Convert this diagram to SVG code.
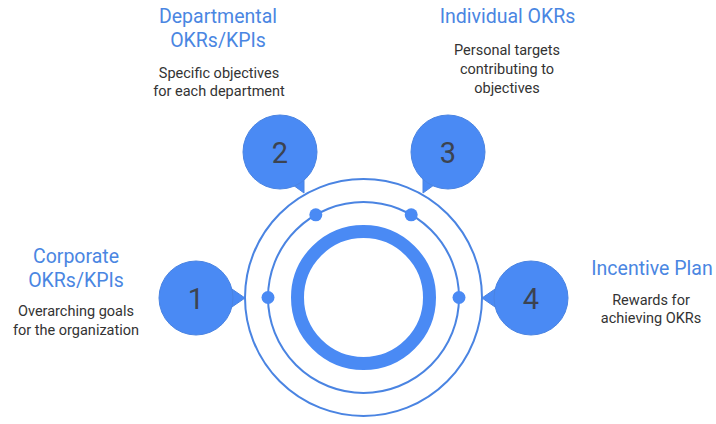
<svg xmlns="http://www.w3.org/2000/svg" width="716" height="424" viewBox="0 0 716 424">
<style>
.ring{fill:none;stroke:#4a84e2;stroke-width:2}
.dot{fill:#4a8af4}
.bub{fill:#4a8af4;stroke:#4a84e2;stroke-width:1}
.num{font-family:Roboto,"Liberation Sans",sans-serif;font-size:29px;fill:#3c4350;text-anchor:middle}
.title{font-family:Roboto,"Liberation Sans",sans-serif;font-size:19.5px;fill:#4a86e2;text-anchor:middle}
.desc{font-family:Roboto,"Liberation Sans",sans-serif;font-size:14.5px;fill:#333;text-anchor:middle}
</style>
<rect width="716" height="424" fill="#fff"/>
<g id="connectors">
<circle class="ring" cx="363.5" cy="297.5" r="118.5"/>
<circle class="ring" cx="363.5" cy="297.5" r="95.5"/>
<circle cx="363.5" cy="297.5" r="66" fill="none" stroke="#4a8af4" stroke-width="13"/>
<circle class="dot" cx="268" cy="297.5" r="6.5"/>
<circle class="dot" cx="459" cy="297.5" r="6.5"/>
<circle class="dot" cx="315.8" cy="214.8" r="6.5"/>
<circle class="dot" cx="411.2" cy="214.8" r="6.5"/>
</g>
<g id="node1">
<path class="bub" d="M229,287 L245,298 L229,309 Z"/>
<circle class="bub" cx="196" cy="298" r="37"/>
<text class="num" x="196" y="308.5">1</text>
<text class="title" x="76" y="263">Corporate</text>
<text class="title" x="76" y="287">OKRs/KPIs</text>
<text class="desc" x="76" y="316">Overarching goals</text>
<text class="desc" x="76" y="335">for the organization</text>
</g>
<g id="node2">
<path class="bub" d="M293,185 L304,193 L304,177 Z"/>
<circle class="bub" cx="280" cy="152" r="37"/>
<text class="num" x="280" y="162.5">2</text>
<text class="title" x="218" y="23">Departmental</text>
<text class="title" x="218" y="47">OKRs/KPIs</text>
<text class="desc" x="219" y="78">Specific objectives</text>
<text class="desc" x="219" y="96">for each department</text>
</g>
<g id="node3">
<path class="bub" d="M434,185 L423,193 L423,177 Z"/>
<circle class="bub" cx="448" cy="152" r="37"/>
<text class="num" x="448" y="162.5">3</text>
<text class="title" x="507.5" y="23">Individual OKRs</text>
<text class="desc" x="507" y="55">Personal targets</text>
<text class="desc" x="507" y="74">contributing to</text>
<text class="desc" x="507" y="93">objectives</text>
</g>
<g id="node4">
<path class="bub" d="M498,287 L482,298 L498,309 Z"/>
<circle class="bub" cx="531" cy="298" r="37"/>
<text class="num" x="531" y="308.5">4</text>
<text class="title" x="652" y="275">Incentive Plan</text>
<text class="desc" x="651" y="305">Rewards for</text>
<text class="desc" x="651" y="323">achieving OKRs</text>
</g>
</svg>
